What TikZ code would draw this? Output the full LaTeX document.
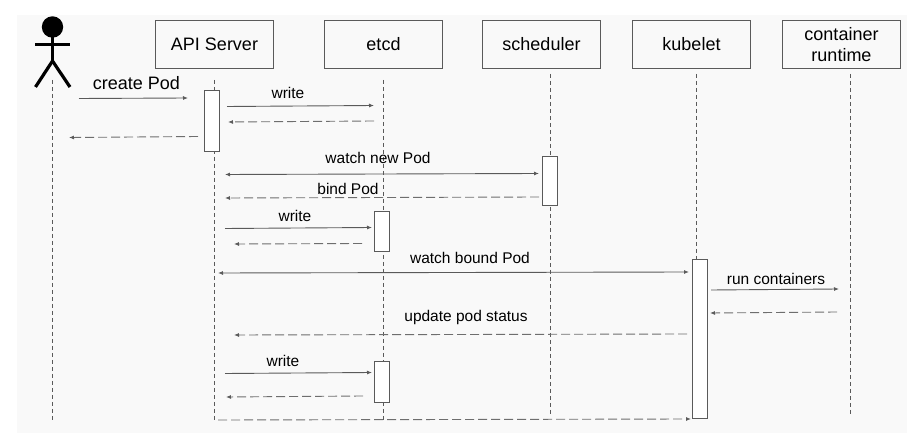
\documentclass[tikz,border=0pt]{standalone}
\usepackage{fontspec}
\setmainfont{Liberation Sans}
\usetikzlibrary{arrows.meta}
\definecolor{bgc}{HTML}{F9F9F9}
\definecolor{linec}{HTML}{5A5A5A}
\definecolor{dashc}{HTML}{6E6E6E}
\tikzset{
  x=1pt,y=-1pt,
  actorbox/.style={draw=linec,line width=0.8pt,fill=bgc,minimum width=118.5pt,minimum height=48.5pt,inner sep=0pt,font=\fontsize{18}{21}\selectfont,align=center,text=black},
  life/.style={draw=linec,line width=0.8pt,dash pattern=on 4pt off 3pt},
  activation/.style={draw=linec,line width=0.8pt,fill=white,minimum width=15.5pt,inner sep=0pt},
  msg/.style={draw=linec,line width=0.9pt,-{Latex[length=5pt,width=4pt]}},
  ret/.style={draw=dashc,line width=0.9pt,dash pattern=on 9pt off 4pt,-{Latex[length=5pt,width=4pt,color=linec]}},
  lab/.style={font=\fontsize{15.5}{17}\selectfont,text=black,inner sep=0pt},
  stick/.style={draw=black,line width=3.2pt},
}
\begin{document}
\begin{tikzpicture}
\useasboundingbox (0,0) rectangle (914,443);
\fill[white] (0,0) rectangle (914,443);
\fill[bgc] (17,15) rectangle (907,433);

% lifelines
\coordinate (l0t) at (52,80); \coordinate (l0b) at (52,422);
\coordinate (l1t) at (214,80); \coordinate (l1b) at (214,422);
\coordinate (l2t) at (383,80); \coordinate (l2b) at (383,422);
\coordinate (l3t) at (550,74); \coordinate (l3b) at (550,416);
\coordinate (l4t) at (696,74); \coordinate (l4b) at (696,416);
\coordinate (l5t) at (850,74); \coordinate (l5b) at (850,416);
\draw[life] (l0t) -- (l0b);
\draw[life] (l1t) -- (l1b);
\draw[life] (l2t) -- (l2b);
\draw[life] (l3t) -- (l3b);
\draw[life] (l4t) -- (l4b);
\draw[life] (l5t) -- (l5b);

% actor
\fill[black] (52.5,27) circle (10.7);
\draw[stick] (52.5,30) -- (52.5,61);
\draw[stick] (35,44.5) -- (70,44.5);
\draw[stick] (52.5,61) -- (35.5,87);
\draw[stick] (52.5,61) -- (70,87);

% header boxes
\node[actorbox] (api) at (214.5,44.5) {API Server};
\node[actorbox] (etcd) at (383.5,44.5) {etcd};
\node[actorbox] (sched) at (541.5,44.5) {scheduler};
\node[actorbox] (kube) at (691.5,44.5) {kubelet};
\node[actorbox] (crt) at (841.5,44.5) {container\\runtime};

% activation bars
\node[activation,minimum height=61pt] (a1) at (212,121) {};
\node[activation,minimum height=49pt] (a2) at (550,180.5) {};
\node[activation,minimum height=40pt] (a3) at (382,231.5) {};
\node[activation,minimum height=159pt] (a4) at (700,339) {};
\node[activation,minimum height=41pt] (a5) at (382,381.5) {};

% messages
\coordinate (m1a) at (79,98.5); \coordinate (m1b) at (188,98);
\draw[msg] (m1a) -- (m1b);
\node[lab,font=\fontsize{18}{20}\selectfont] (t1) at (136.5,83) {create Pod};
\coordinate (m2a) at (227,106.5); \coordinate (m2b) at (374,105.5);
\draw[msg] (m2a) -- (m2b);
\node[lab] (t2) at (288,93) {write};
\coordinate (m3a) at (374,121); \coordinate (m3b) at (228,122);
\draw[ret] (m3a) -- (m3b);
\coordinate (m4a) at (198,136.5); \coordinate (m4b) at (69,137.5);
\draw[ret] (m4a) -- (m4b);
\coordinate (m5a) at (225,174.5); \coordinate (m5b) at (539,173.5);
\draw[msg,{Latex[length=5pt,width=4pt]}-{Latex[length=5pt,width=4pt]}] (m5a) -- (m5b);
\node[lab] (t5) at (378,158) {watch new Pod};
\coordinate (m6a) at (539,197); \coordinate (m6b) at (225,198);
\draw[ret] (m6a) -- (m6b);
\node[lab] (t6) at (348,189) {bind Pod};
\coordinate (m7a) at (225,228.5); \coordinate (m7b) at (372,227.5);
\draw[msg] (m7a) -- (m7b);
\node[lab] (t7) at (295,216) {write};
\coordinate (m8a) at (362,243.5); \coordinate (m8b) at (234,244);
\draw[ret] (m8a) -- (m8b);
\coordinate (m9a) at (218,273); \coordinate (m9b) at (689,272);
\draw[msg,{Latex[length=5pt,width=4pt]}-{Latex[length=5pt,width=4pt]}] (m9a) -- (m9b);
\node[lab] (t9) at (470,258) {watch bound Pod};
\coordinate (m10a) at (711,290); \coordinate (m10b) at (839,289);
\draw[msg] (m10a) -- (m10b);
\node[lab] (t10) at (776,279) {run containers};
\coordinate (m11a) at (837,312); \coordinate (m11b) at (710,313);
\draw[ret] (m11a) -- (m11b);
\coordinate (m12a) at (687,334); \coordinate (m12b) at (234,335);
\draw[ret] (m12a) -- (m12b);
\node[lab] (t12) at (466,317) {update pod status};
\coordinate (m13a) at (225,373.5); \coordinate (m13b) at (372,372.5);
\draw[msg] (m13a) -- (m13b);
\node[lab] (t13) at (283,361) {write};
\coordinate (m14a) at (363,396); \coordinate (m14b) at (226,397);
\draw[ret] (m14a) -- (m14b);
\coordinate (m15a) at (218,420); \coordinate (m15b) at (691,419);
\draw[ret] (m15a) -- (m15b);
\end{tikzpicture}
\end{document}
